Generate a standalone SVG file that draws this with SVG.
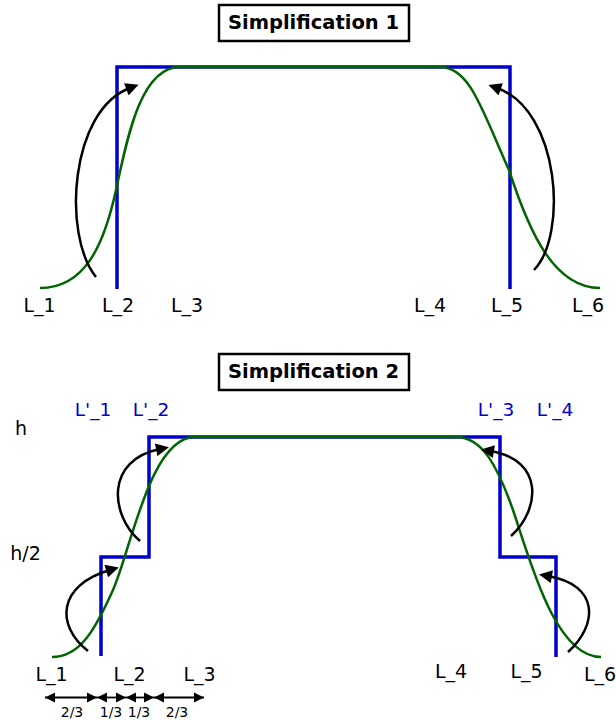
<svg xmlns="http://www.w3.org/2000/svg" width="616" height="720" viewBox="0 0 616 720">
<style>
.title{font-family:"DejaVu Sans",sans-serif;font-weight:bold;font-size:19.5px;fill:#000;text-anchor:middle}
.lab{font-family:"DejaVu Sans",sans-serif;font-size:19px;fill:#000;text-anchor:middle}
.blab{font-family:"DejaVu Sans",sans-serif;font-size:18.5px;fill:#0000cc;text-anchor:middle}
.small{font-family:"DejaVu Sans",sans-serif;font-size:14px;fill:#000;text-anchor:middle}
.box{fill:#fff;stroke:#000;stroke-width:2.5}
.blue{fill:none;stroke:#0000cc;stroke-width:3.5}
.green{fill:none;stroke:#006400;stroke-width:2.5}
.arc{fill:none;stroke:#000;stroke-width:2.5;marker-end:url(#ah)}
.dim{fill:none;stroke:#000;stroke-width:1.8;marker-start:url(#dh);marker-end:url(#dh)}
</style>
<defs>
<marker id="ah" viewBox="0 0 10 10" refX="3" refY="5" markerWidth="14" markerHeight="13" markerUnits="userSpaceOnUse" orient="auto">
<path d="M0,0 L10,5 L0,10 z" fill="#000"/>
</marker>
<marker id="dh" viewBox="0 0 10 10" refX="10" refY="5" markerWidth="10" markerHeight="11" markerUnits="userSpaceOnUse" orient="auto-start-reverse">
<path d="M0,0 L10,5 L0,10 z" fill="#000"/>
</marker>
</defs>

<g id="title1">
<rect class="box" x="219" y="5" width="190" height="36"/>
<text class="title" x="313.5" y="29">Simplification 1</text>
</g>

<g id="shape1">
<path class="blue" d="M117,289 L117,67 L510,67 L510,289"/>
<path class="green" d="M40,288 C85,288 104,245 116,190 C127,140 140,67 180,67 L440,67 C470,67 482,110 509,170 C530,235 555,288 600,288"/>
</g>

<g id="labels1">
<text class="lab" x="39.5" y="312">L_1</text>
<text class="lab" x="118" y="312">L_2</text>
<text class="lab" x="187" y="312">L_3</text>
<text class="lab" x="430" y="312">L_4</text>
<text class="lab" x="507" y="312">L_5</text>
<text class="lab" x="588" y="312">L_6</text>
</g>

<g id="title2">
<rect class="box" x="219" y="354" width="190" height="36"/>
<text class="title" x="313.5" y="378">Simplification 2</text>
</g>

<g id="shape2">
<path class="blue" d="M101,656 L101,557 L149,557 L149,437 L500,437 L500,557 L556,557 L556,657"/>
<path class="green" d="M52,657 C80,657 95,630 113,590 C131,550 150,437 195,437 L456,437 C482,437 497,465 513,510 C530,560 555,657 601,657"/>
</g>

<g id="labels2">
<text class="blab" x="93" y="416">L'_1</text>
<text class="blab" x="151" y="416">L'_2</text>
<text class="blab" x="496" y="416">L'_3</text>
<text class="blab" x="555" y="416">L'_4</text>
<text class="lab" x="21" y="435">h</text>
<text class="lab" x="25.5" y="560">h/2</text>
<text class="lab" x="51.5" y="681">L_1</text>
<text class="lab" x="129.5" y="681">L_2</text>
<text class="lab" x="199.5" y="681">L_3</text>
<text class="lab" x="451" y="678">L_4</text>
<text class="lab" x="526.5" y="678">L_5</text>
<text class="lab" x="600" y="681">L_6</text>
</g>

<g id="connectors">
<path class="arc" d="M96,277 C62,235 70,110 130,88"/>
<path class="arc" d="M534,270 C568,235 560,110 497,88"/>
<path class="arc" d="M88,651 C55,625 58,585 110,570"/>
<path class="arc" d="M140,541 C110,515 105,460 160,449"/>
<path class="arc" d="M511,536 C540,510 545,460 490,451"/>
<path class="arc" d="M568,652 C598,625 600,585 548,576"/>
</g>

<g id="dimensions">
<path class="dim" d="M45,697.5 L97,697.5"/>
<path class="dim" d="M97,697.5 L126,697.5"/>
<path class="dim" d="M126,697.5 L154,697.5"/>
<path class="dim" d="M154,697.5 L204,697.5"/>
<text class="small" x="72" y="717">2/3</text>
<text class="small" x="111" y="717">1/3</text>
<text class="small" x="139" y="717">1/3</text>
<text class="small" x="177" y="717">2/3</text>
</g>
</svg>
